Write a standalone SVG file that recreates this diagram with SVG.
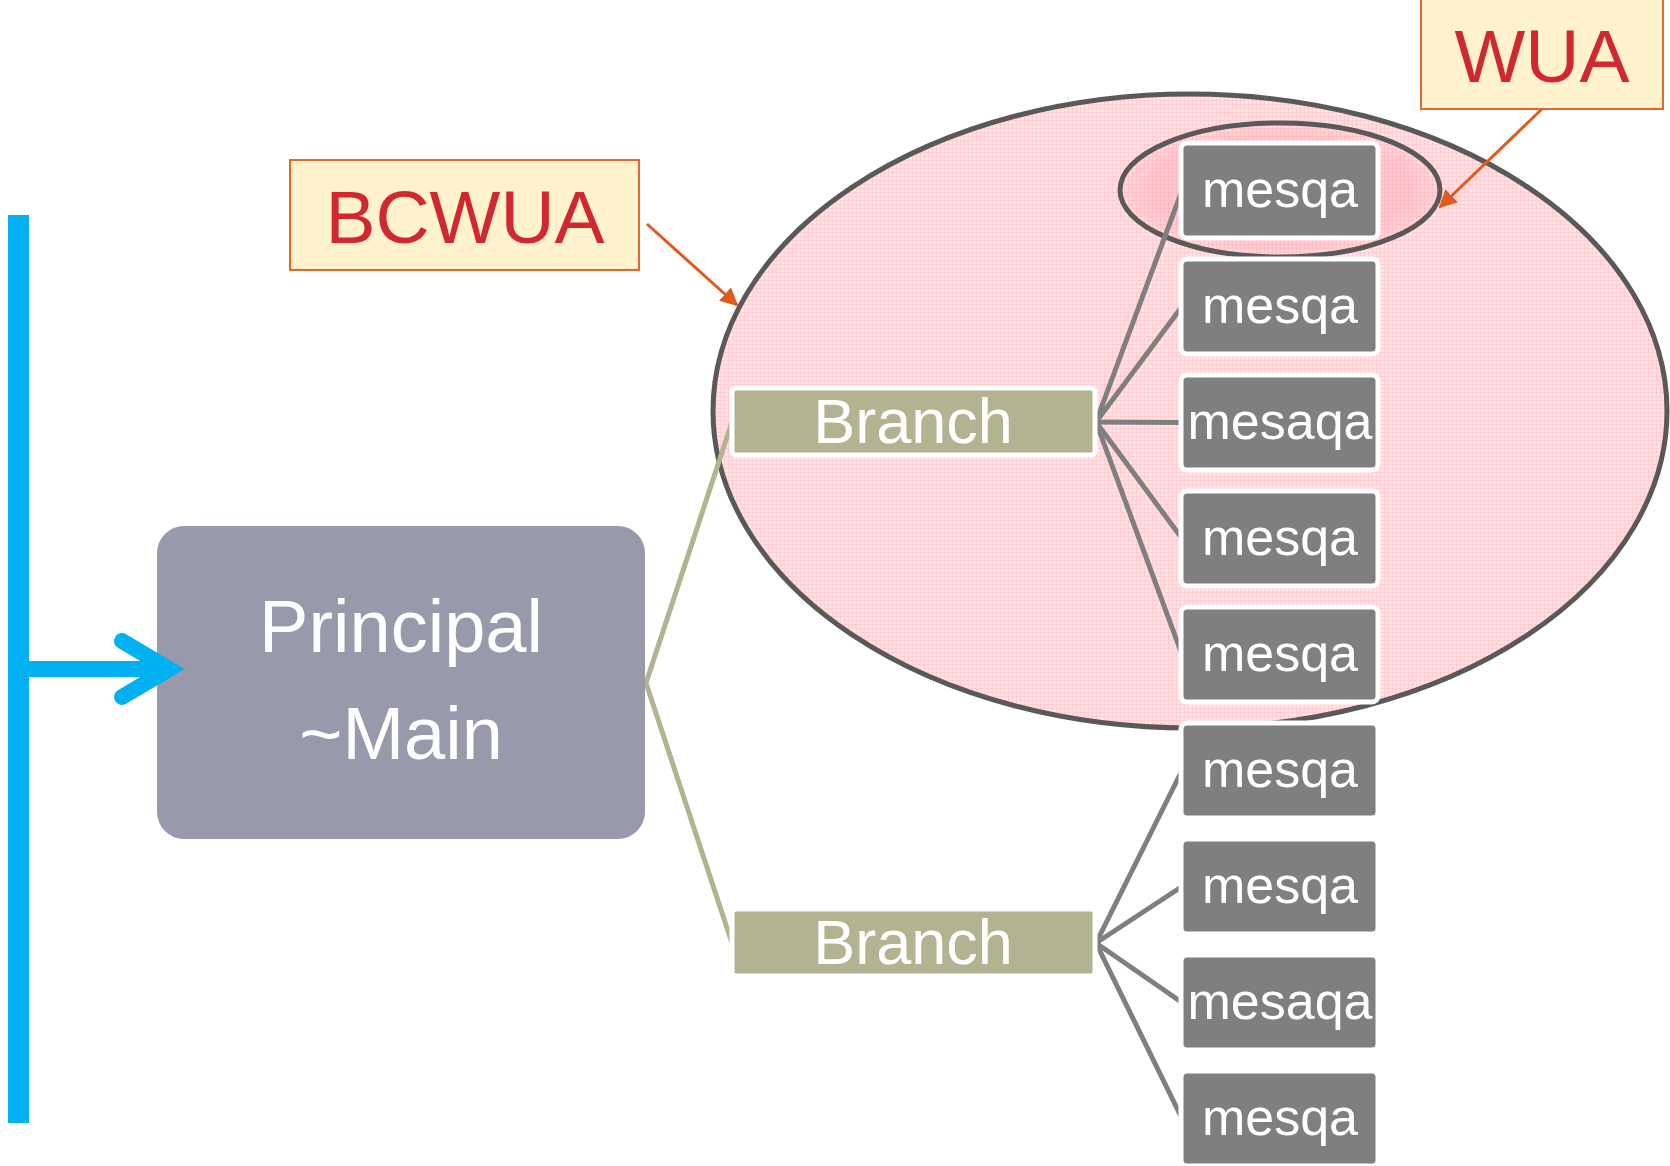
<svg xmlns="http://www.w3.org/2000/svg" width="1670" height="1166" viewBox="0 0 1670 1166">
<style>
.lbl{font-family:"Liberation Sans",Arial,sans-serif;text-anchor:middle}
.mesqa rect{fill:#7f7f7f;stroke:#ffffff;stroke-width:5}
.mesqa text{fill:#ffffff;font-size:52px}
.branch rect{fill:#b3b391;stroke:#ffffff;stroke-width:5}
.branch text{fill:#ffffff;font-size:63px}
.callout rect{fill:#fff2cc;stroke:#e0692b;stroke-width:2}
.callout text{fill:#d0282e;font-size:75px}
.gline{stroke:#7f7f7f;stroke-width:5;fill:none}
.oline{stroke:#b3b391;stroke-width:5;fill:none}
.oarrow{stroke:#e05a1e;stroke-width:3;fill:none;marker-end:url(#ah)}
</style>
<defs>
<pattern id="grid" width="4" height="4" patternUnits="userSpaceOnUse">
<rect width="4" height="4" fill="#ffe4e7"/>
<rect width="4" height="1" fill="#ffcdd2"/>
<rect width="1" height="4" fill="#ffcdd2"/>
</pattern>
<radialGradient id="inner" cx="0.5" cy="0.5" r="0.5">
<stop offset="0" stop-color="#ff8c99" stop-opacity="0.35"/>
<stop offset="0.8" stop-color="#ff8c99" stop-opacity="0.3"/>
<stop offset="1" stop-color="#ff8c99" stop-opacity="0.1"/>
</radialGradient>
<marker id="ah" viewBox="0 0 10 10" refX="9" refY="5" markerWidth="18" markerHeight="18" markerUnits="userSpaceOnUse" orient="auto">
<path d="M0,0 L10,5 L0,10 z" fill="#e05a1e"/>
</marker>
</defs>

<g id="bcwua-region">
<ellipse cx="1190" cy="411" rx="477" ry="317" fill="url(#grid)" stroke="#595959" stroke-width="5"/>
</g>
<g id="wua-region">
<ellipse cx="1280" cy="190" rx="160" ry="67" fill="url(#inner)" stroke="#595959" stroke-width="5"/>
</g>

<g id="connectors">
<polyline class="oline" points="732,422 646,683 732,943"/>
<line class="gline" x1="1096" y1="422" x2="1182" y2="190.5"/>
<line class="gline" x1="1096" y1="422" x2="1182" y2="306.5"/>
<line class="gline" x1="1096" y1="422" x2="1182" y2="422.5"/>
<line class="gline" x1="1096" y1="422" x2="1182" y2="538.5"/>
<line class="gline" x1="1096" y1="422" x2="1182" y2="654.5"/>
<line class="gline" x1="1096" y1="943" x2="1182" y2="770.5"/>
<line class="gline" x1="1096" y1="943" x2="1182" y2="886.5"/>
<line class="gline" x1="1096" y1="943" x2="1182" y2="1002.5"/>
<line class="gline" x1="1096" y1="943" x2="1182" y2="1118.5"/>
<line class="oarrow" x1="647" y1="224" x2="737" y2="305"/>
<line class="oarrow" x1="1542" y1="109" x2="1440" y2="207"/>
</g>

<g id="principal">
<rect x="157" y="526" width="488" height="313" rx="27" fill="#9899ab"/>
<text class="lbl" x="401" y="652" font-size="74" fill="#ffffff">Principal</text>
<text class="lbl" x="401" y="759" font-size="74" fill="#ffffff">~Main</text>
</g>

<g id="input-arrow">
<rect x="8" y="215" width="21" height="908" fill="#00b0f0"/>
<line x1="25" y1="669" x2="172" y2="669" stroke="#00b0f0" stroke-width="16"/>
<polyline points="122,641 169,669 122,697" fill="none" stroke="#00b0f0" stroke-width="16" stroke-linecap="round" stroke-linejoin="miter" stroke-miterlimit="10"/>
</g>

<g id="branch1" class="branch">
<rect x="732" y="388" width="363" height="67" rx="4"/>
<text class="lbl" x="913" y="443">Branch</text>
</g>
<g id="branch2" class="branch">
<rect x="732" y="909" width="363" height="67" rx="4"/>
<text class="lbl" x="913" y="964">Branch</text>
</g>

<g id="mesqa1" class="mesqa"><rect x="1181" y="143" width="197" height="95" rx="6"/><text class="lbl" x="1280" y="207">mesqa</text></g>
<g id="mesqa2" class="mesqa"><rect x="1181" y="259" width="197" height="95" rx="6"/><text class="lbl" x="1280" y="323">mesqa</text></g>
<g id="mesqa3" class="mesqa"><rect x="1181" y="375" width="197" height="95" rx="6"/><text class="lbl" x="1280" y="439">mesaqa</text></g>
<g id="mesqa4" class="mesqa"><rect x="1181" y="491" width="197" height="95" rx="6"/><text class="lbl" x="1280" y="555">mesqa</text></g>
<g id="mesqa5" class="mesqa"><rect x="1181" y="607" width="197" height="95" rx="6"/><text class="lbl" x="1280" y="671">mesqa</text></g>
<g id="mesqa6" class="mesqa"><rect x="1181" y="723" width="197" height="95" rx="6"/><text class="lbl" x="1280" y="787">mesqa</text></g>
<g id="mesqa7" class="mesqa"><rect x="1181" y="839" width="197" height="95" rx="6"/><text class="lbl" x="1280" y="903">mesqa</text></g>
<g id="mesqa8" class="mesqa"><rect x="1181" y="955" width="197" height="95" rx="6"/><text class="lbl" x="1280" y="1019">mesaqa</text></g>
<g id="mesqa9" class="mesqa"><rect x="1181" y="1071" width="197" height="95" rx="6"/><text class="lbl" x="1280" y="1135">mesqa</text></g>

<g id="bcwua-label" class="callout">
<rect x="290" y="160" width="349" height="110"/>
<text class="lbl" x="465" y="243">BCWUA</text>
</g>
<g id="wua-label" class="callout">
<rect x="1421" y="-2" width="242" height="111"/>
<text class="lbl" x="1542" y="82">WUA</text>
</g>
</svg>
